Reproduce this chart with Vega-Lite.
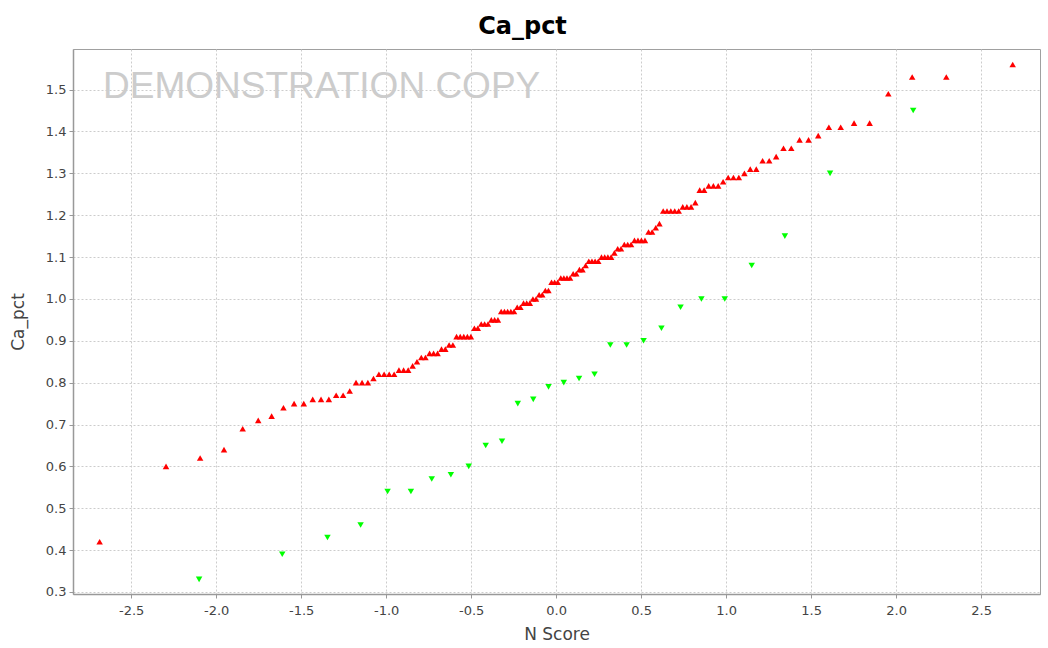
{
  "$schema": "https://vega.github.io/schema/vega-lite/v6.json",
  "autosize": "none",
  "width": 967,
  "height": 545,
  "padding": {"left": 73, "top": 49, "right": 8, "bottom": 54},
  "background": "white",
  "title": {"text": "Ca_pct", "font": "DejaVu Sans", "fontSize": 24, "fontWeight": "bold", "color": "#000000", "anchor": "middle", "offset": 10, "dx": -34},
  "config": {
    "view": {"stroke": "#a0a0a0", "strokeWidth": 1},
    "axis": {
      "grid": true,
      "labelFont": "DejaVu Sans", "labelFontSize": 13, "labelColor": "#444444",
      "labelExpr": "replace(datum.label, '\u2212', '-')",
      "titleFont": "DejaVu Sans", "titleFontSize": 17, "titleFontWeight": "normal", "titleColor": "#444444",
      "domainColor": "#999999", "domainWidth": 1.5, "tickColor": "#999999", "tickSize": 4,
      "gridColor": "#cccccc", "gridDash": [2, 2], "gridWidth": 1, "gridOpacity": 1
    }
  },
  "layer": [
    {
      "data": {"values": [{"t": "DEMONSTRATION COPY"}]},
      "mark": {"type": "text", "font": "Liberation Sans", "fontSize": 37, "color": "#cccccc", "align": "left", "baseline": "alphabetic"},
      "encoding": {
        "x": {"datum": -2.665, "type": "quantitative"},
        "y": {"datum": 1.479, "type": "quantitative"},
        "text": {"field": "t"}
      }
    },
    {
      "data": {"values": [
        {"s":"Ca_pct A","z":-2.6853,"v":0.42},{"s":"Ca_pct A","z":-2.2949,"v":0.60},{"s":"Ca_pct A","z":-2.0942,"v":0.62},{"s":"Ca_pct A","z":-1.9538,"v":0.64},
        {"s":"Ca_pct A","z":-1.8438,"v":0.69},{"s":"Ca_pct A","z":-1.7524,"v":0.71},{"s":"Ca_pct A","z":-1.6737,"v":0.72},{"s":"Ca_pct A","z":-1.6041,"v":0.74},
        {"s":"Ca_pct A","z":-1.5415,"v":0.75},{"s":"Ca_pct A","z":-1.4845,"v":0.75},{"s":"Ca_pct A","z":-1.4319,"v":0.76},{"s":"Ca_pct A","z":-1.3830,"v":0.76},
        {"s":"Ca_pct A","z":-1.3372,"v":0.76},{"s":"Ca_pct A","z":-1.2940,"v":0.77},{"s":"Ca_pct A","z":-1.2532,"v":0.77},{"s":"Ca_pct A","z":-1.2143,"v":0.78},
        {"s":"Ca_pct A","z":-1.1772,"v":0.80},{"s":"Ca_pct A","z":-1.1416,"v":0.80},{"s":"Ca_pct A","z":-1.1074,"v":0.80},{"s":"Ca_pct A","z":-1.0745,"v":0.81},
        {"s":"Ca_pct A","z":-1.0427,"v":0.82},{"s":"Ca_pct A","z":-1.0119,"v":0.82},{"s":"Ca_pct A","z":-0.9821,"v":0.82},{"s":"Ca_pct A","z":-0.9530,"v":0.82},
        {"s":"Ca_pct A","z":-0.9248,"v":0.83},{"s":"Ca_pct A","z":-0.8973,"v":0.83},{"s":"Ca_pct A","z":-0.8704,"v":0.83},{"s":"Ca_pct A","z":-0.8442,"v":0.84},
        {"s":"Ca_pct A","z":-0.8186,"v":0.85},{"s":"Ca_pct A","z":-0.7934,"v":0.86},{"s":"Ca_pct A","z":-0.7688,"v":0.86},{"s":"Ca_pct A","z":-0.7446,"v":0.87},
        {"s":"Ca_pct A","z":-0.7208,"v":0.87},{"s":"Ca_pct A","z":-0.6975,"v":0.87},{"s":"Ca_pct A","z":-0.6745,"v":0.88},{"s":"Ca_pct A","z":-0.6519,"v":0.88},
        {"s":"Ca_pct A","z":-0.6296,"v":0.89},{"s":"Ca_pct A","z":-0.6076,"v":0.89},{"s":"Ca_pct A","z":-0.5859,"v":0.91},{"s":"Ca_pct A","z":-0.5644,"v":0.91},
        {"s":"Ca_pct A","z":-0.5433,"v":0.91},{"s":"Ca_pct A","z":-0.5223,"v":0.91},{"s":"Ca_pct A","z":-0.5016,"v":0.91},{"s":"Ca_pct A","z":-0.4811,"v":0.93},
        {"s":"Ca_pct A","z":-0.4608,"v":0.93},{"s":"Ca_pct A","z":-0.4407,"v":0.94},{"s":"Ca_pct A","z":-0.4208,"v":0.94},{"s":"Ca_pct A","z":-0.4010,"v":0.94},
        {"s":"Ca_pct A","z":-0.3814,"v":0.95},{"s":"Ca_pct A","z":-0.3620,"v":0.95},{"s":"Ca_pct A","z":-0.3426,"v":0.95},{"s":"Ca_pct A","z":-0.3234,"v":0.97},
        {"s":"Ca_pct A","z":-0.3043,"v":0.97},{"s":"Ca_pct A","z":-0.2854,"v":0.97},{"s":"Ca_pct A","z":-0.2665,"v":0.97},{"s":"Ca_pct A","z":-0.2477,"v":0.97},
        {"s":"Ca_pct A","z":-0.2290,"v":0.98},{"s":"Ca_pct A","z":-0.2104,"v":0.98},{"s":"Ca_pct A","z":-0.1919,"v":0.99},{"s":"Ca_pct A","z":-0.1734,"v":0.99},
        {"s":"Ca_pct A","z":-0.1550,"v":0.99},{"s":"Ca_pct A","z":-0.1367,"v":1.00},{"s":"Ca_pct A","z":-0.1183,"v":1.00},{"s":"Ca_pct A","z":-0.1001,"v":1.01},
        {"s":"Ca_pct A","z":-0.0818,"v":1.01},{"s":"Ca_pct A","z":-0.0636,"v":1.02},{"s":"Ca_pct A","z":-0.0454,"v":1.02},{"s":"Ca_pct A","z":-0.0272,"v":1.04},
        {"s":"Ca_pct A","z":-0.0091,"v":1.04},{"s":"Ca_pct A","z":0.0091,"v":1.04},{"s":"Ca_pct A","z":0.0272,"v":1.05},{"s":"Ca_pct A","z":0.0454,"v":1.05},
        {"s":"Ca_pct A","z":0.0636,"v":1.05},{"s":"Ca_pct A","z":0.0818,"v":1.05},{"s":"Ca_pct A","z":0.1001,"v":1.06},{"s":"Ca_pct A","z":0.1183,"v":1.06},
        {"s":"Ca_pct A","z":0.1367,"v":1.07},{"s":"Ca_pct A","z":0.1550,"v":1.07},{"s":"Ca_pct A","z":0.1734,"v":1.08},{"s":"Ca_pct A","z":0.1919,"v":1.09},
        {"s":"Ca_pct A","z":0.2104,"v":1.09},{"s":"Ca_pct A","z":0.2290,"v":1.09},{"s":"Ca_pct A","z":0.2477,"v":1.09},{"s":"Ca_pct A","z":0.2665,"v":1.10},
        {"s":"Ca_pct A","z":0.2854,"v":1.10},{"s":"Ca_pct A","z":0.3043,"v":1.10},{"s":"Ca_pct A","z":0.3234,"v":1.10},{"s":"Ca_pct A","z":0.3426,"v":1.11},
        {"s":"Ca_pct A","z":0.3620,"v":1.12},{"s":"Ca_pct A","z":0.3814,"v":1.12},{"s":"Ca_pct A","z":0.4010,"v":1.13},{"s":"Ca_pct A","z":0.4208,"v":1.13},
        {"s":"Ca_pct A","z":0.4407,"v":1.13},{"s":"Ca_pct A","z":0.4608,"v":1.14},{"s":"Ca_pct A","z":0.4811,"v":1.14},{"s":"Ca_pct A","z":0.5016,"v":1.14},
        {"s":"Ca_pct A","z":0.5223,"v":1.14},{"s":"Ca_pct A","z":0.5433,"v":1.16},{"s":"Ca_pct A","z":0.5644,"v":1.16},{"s":"Ca_pct A","z":0.5859,"v":1.17},
        {"s":"Ca_pct A","z":0.6076,"v":1.18},{"s":"Ca_pct A","z":0.6296,"v":1.21},{"s":"Ca_pct A","z":0.6519,"v":1.21},{"s":"Ca_pct A","z":0.6745,"v":1.21},
        {"s":"Ca_pct A","z":0.6975,"v":1.21},{"s":"Ca_pct A","z":0.7208,"v":1.21},{"s":"Ca_pct A","z":0.7446,"v":1.22},{"s":"Ca_pct A","z":0.7688,"v":1.22},
        {"s":"Ca_pct A","z":0.7934,"v":1.22},{"s":"Ca_pct A","z":0.8186,"v":1.23},{"s":"Ca_pct A","z":0.8442,"v":1.26},{"s":"Ca_pct A","z":0.8704,"v":1.26},
        {"s":"Ca_pct A","z":0.8973,"v":1.27},{"s":"Ca_pct A","z":0.9248,"v":1.27},{"s":"Ca_pct A","z":0.9530,"v":1.27},{"s":"Ca_pct A","z":0.9821,"v":1.28},
        {"s":"Ca_pct A","z":1.0119,"v":1.29},{"s":"Ca_pct A","z":1.0427,"v":1.29},{"s":"Ca_pct A","z":1.0745,"v":1.29},{"s":"Ca_pct A","z":1.1074,"v":1.30},
        {"s":"Ca_pct A","z":1.1416,"v":1.31},{"s":"Ca_pct A","z":1.1772,"v":1.31},{"s":"Ca_pct A","z":1.2143,"v":1.33},{"s":"Ca_pct A","z":1.2532,"v":1.33},
        {"s":"Ca_pct A","z":1.2940,"v":1.34},{"s":"Ca_pct A","z":1.3372,"v":1.36},{"s":"Ca_pct A","z":1.3830,"v":1.36},{"s":"Ca_pct A","z":1.4319,"v":1.38},
        {"s":"Ca_pct A","z":1.4845,"v":1.38},{"s":"Ca_pct A","z":1.5415,"v":1.39},{"s":"Ca_pct A","z":1.6041,"v":1.41},{"s":"Ca_pct A","z":1.6737,"v":1.41},
        {"s":"Ca_pct A","z":1.7524,"v":1.42},{"s":"Ca_pct A","z":1.8438,"v":1.42},{"s":"Ca_pct A","z":1.9538,"v":1.49},{"s":"Ca_pct A","z":2.0942,"v":1.53},
        {"s":"Ca_pct A","z":2.2949,"v":1.53},{"s":"Ca_pct A","z":2.6853,"v":1.56},
        {"s":"Ca_pct B","z":-2.1002,"v":0.33},{"s":"Ca_pct B","z":-1.6112,"v":0.39},{"s":"Ca_pct B","z":-1.3452,"v":0.43},{"s":"Ca_pct B","z":-1.1503,"v":0.46},
        {"s":"Ca_pct B","z":-0.9916,"v":0.54},{"s":"Ca_pct B","z":-0.8544,"v":0.54},{"s":"Ca_pct B","z":-0.7318,"v":0.57},{"s":"Ca_pct B","z":-0.6193,"v":0.58},
        {"s":"Ca_pct B","z":-0.5142,"v":0.60},{"s":"Ca_pct B","z":-0.4144,"v":0.65},{"s":"Ca_pct B","z":-0.3186,"v":0.66},{"s":"Ca_pct B","z":-0.2257,"v":0.75},
        {"s":"Ca_pct B","z":-0.1347,"v":0.76},{"s":"Ca_pct B","z":-0.0448,"v":0.79},{"s":"Ca_pct B","z":0.0448,"v":0.80},{"s":"Ca_pct B","z":0.1347,"v":0.81},
        {"s":"Ca_pct B","z":0.2257,"v":0.82},{"s":"Ca_pct B","z":0.3186,"v":0.89},{"s":"Ca_pct B","z":0.4144,"v":0.89},{"s":"Ca_pct B","z":0.5142,"v":0.90},
        {"s":"Ca_pct B","z":0.6193,"v":0.93},{"s":"Ca_pct B","z":0.7318,"v":0.98},{"s":"Ca_pct B","z":0.8544,"v":1.00},{"s":"Ca_pct B","z":0.9916,"v":1.00},
        {"s":"Ca_pct B","z":1.1503,"v":1.08},{"s":"Ca_pct B","z":1.3452,"v":1.15},{"s":"Ca_pct B","z":1.6112,"v":1.30},{"s":"Ca_pct B","z":2.1002,"v":1.45}
      ]},
      "mark": {"type": "point", "filled": true, "opacity": 1, "size": 42, "strokeWidth": 0},
      "encoding": {
        "x": {"field": "z", "type": "quantitative", "title": "N Score",
              "scale": {"domain": [-2.842, 2.846], "nice": false, "zero": false},
              "axis": {"values": [-2.5, -2.0, -1.5, -1.0, -0.5, 0.0, 0.5, 1.0, 1.5, 2.0, 2.5], "format": ".1f", "labelPadding": 6, "titlePadding": 9}},
        "y": {"field": "v", "type": "quantitative", "title": "Ca_pct",
              "scale": {"domain": [0.2952, 1.597], "nice": false, "zero": false},
              "axis": {"values": [0.3, 0.4, 0.5, 0.6, 0.7, 0.8, 0.9, 1.0, 1.1, 1.2, 1.3, 1.4, 1.5], "format": ".1f", "labelPadding": 3, "titlePadding": 18}},
        "color": {"field": "s", "type": "nominal", "scale": {"domain": ["Ca_pct A", "Ca_pct B"], "range": ["#ff0000", "#00ff00"]}, "legend": null},
        "shape": {"field": "s", "type": "nominal", "scale": {"domain": ["Ca_pct A", "Ca_pct B"], "range": ["triangle-up", "triangle-down"]}, "legend": null}
      }
    }
  ]
}
